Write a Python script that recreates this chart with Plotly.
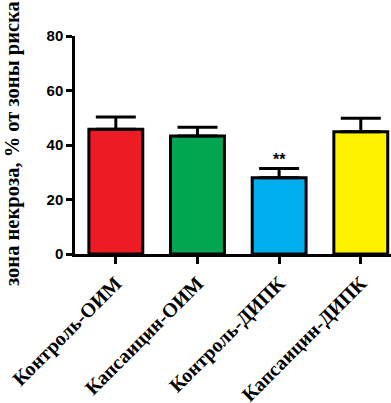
import plotly.graph_objects as go

categories = ["Контроль-ОИМ", "Капсаицин-ОИМ", "Контроль-ДИПК", "Капсаицин-ДИПК"]
means = [45.8, 43.3, 28.0, 44.9]
sem = [4.5, 3.2, 3.4, 4.9]
colors = ["#ED1C24", "#00A651", "#00AEEF", "#FFF200"]
y_ticks = [0, 20, 40, 60, 80]
sig_labels = ["", "", "**", ""]
y_title = "зона некроза, % от зоны риска"

W, H = 391, 403
ml, mr, mt, mb = 75, 0, 36, 149
pw = W - ml - mr
ph = H - mt - mb

fig = go.Figure()
fig.add_trace(go.Bar(
    x=list(range(len(categories))), y=means,
    width=0.66,
    marker=dict(color=colors, line=dict(color="black", width=3)),
    error_y=dict(type="data", array=sem, arrayminus=[0]*len(sem), symmetric=False,
                 color="black", thickness=3, width=20),
))

for i, s in enumerate(sig_labels):
    if s:
        fig.add_annotation(x=i, y=means[i] + sem[i] - 0.6, text=s, showarrow=False,
                           yanchor="bottom",
                           font=dict(family="Liberation Sans", size=16, color="black", weight="bold"))

# title centre at pixel y ~144
fig.add_annotation(xref="paper", yref="paper", x=(12 - ml) / pw, y=(H - mb - 144) / ph,
                   text=y_title, textangle=-90, showarrow=False,
                   xanchor="center", yanchor="middle",
                   font=dict(family="Liberation Serif", size=20.5, color="black", weight="bold"))

fig.update_layout(
    width=W, height=H,
    margin=dict(l=ml, r=mr, t=mt, b=mb, pad=0, autoexpand=False),
    paper_bgcolor="white", plot_bgcolor="white",
    showlegend=False,
    bargap=0.34,
)
fig.update_xaxes(
    range=[-0.5, 3.37], automargin=False,
    tickmode="array", tickvals=list(range(len(categories))), ticktext=categories,
    tickangle=-45,
    ticks="outside", ticklen=7, tickwidth=2.5, tickcolor="black",
    showline=True, linecolor="black", linewidth=2.5,
    showgrid=False, zeroline=False,
    tickfont=dict(family="Liberation Serif", size=20, color="black", weight="bold"),
)
fig.update_yaxes(
    range=[0, 80], automargin=False,
    tickmode="array", tickvals=y_ticks,
    ticks="outside", ticklen=6, tickwidth=2.5, tickcolor="black",
    showline=True, linecolor="black", linewidth=2.5,
    showgrid=False, zeroline=False,
    tickfont=dict(family="Liberation Sans", size=15, color="black", weight="bold"),
)

fig.write_html("out.html", config={"displayModeBar": False},
               post_script="document.body.style.margin='0';document.body.style.overflow='hidden';")
